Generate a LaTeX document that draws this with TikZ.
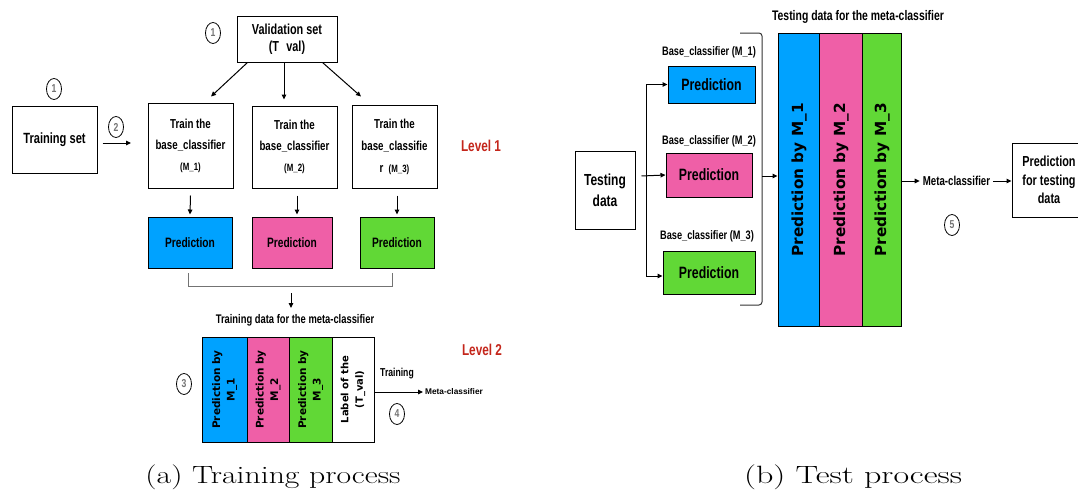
\documentclass[tikz,border=0pt]{standalone}
\usepackage{fontspec}
\usepackage{graphicx}
\newfontfamily\cnd[FakeStretch=0.75]{Liberation Sans}
\newfontfamily\lsans{Liberation Sans}
\newfontfamily\djv{DejaVu Sans}
\usetikzlibrary{arrows.meta,shapes.geometric}
\definecolor{kblue}{HTML}{00A2FF}
\definecolor{kpink}{HTML}{EF5FA7}
\definecolor{kgreen}{HTML}{61D836}
\definecolor{kred}{HTML}{C4261B}
\newcommand\cf[2]{\cnd\bfseries\fontsize{#1}{#2}\selectfont}
\newcommand\dvb[2]{\djv\bfseries\fontsize{#1}{#2}\selectfont}
\begin{document}
\begin{tikzpicture}[x=1pt,y=-1pt,
  box/.style={draw=black, line width=1pt, inner sep=0pt, align=center},
  num/.style={draw, ellipse, line width=0.8pt, minimum width=15pt, minimum height=21pt, inner sep=0pt, font=\cf{11.5}{12}, text=black!55},
  arr/.style={-{Triangle[length=5pt,width=4.5pt]}, line width=1pt},
  lbl/.style={inner sep=0pt, align=center},
  captxt/.style={inner sep=0pt, font=\fontsize{25}{28}\selectfont}]
\useasboundingbox (0,0) rectangle (1078,493);
% ---------------- (a) training ----------------
\node[box, minimum width=100pt, minimum height=46pt, font=\cf{14.5}{17}] (val) at (287,39) {Validation set\\(T\hspace{0.5em}val)};
\node[num] (n1a) at (213,33) {1};
\node[box, minimum width=85pt, minimum height=67pt, font=\cf{14.8}{18}] (ts) at (54.5,139.5) {Training set};
\node[num] (n1b) at (54,89) {1};
\node[num] (n2) at (116,127) {2};
\coordinate (a2s) at ([shift={(5pt,-3.5pt)}]ts.east);
\coordinate (a2e) at (131,143);
\draw[arr] (a2s) -- (a2e);

\node[box, minimum width=85pt, minimum height=85pt, font=\cf{13}{21}] (t1) at (190.5,145.5) {Train the\\base\_classifier\\{\cf{10.5}{21}(M\_1)}};
\node[box, minimum width=85pt, minimum height=82pt, font=\cf{13}{21}] (t2) at (294.5,147) {Train the\\base\_classifier\\{\cf{10.5}{21}(M\_2)}};
\node[box, minimum width=85pt, minimum height=83pt, font=\cf{13}{22}] (t3) at (394.5,146.5) {Train the\\base\_classifie\\r\hspace{0.4em}{\cf{10.5}{22}(M\_3)}};

\draw[arr] ([xshift=11pt]val.south west) -- ([shift={(20.5pt,6pt)}]t1.north);
\draw[arr] ([xshift=-3pt]val.south) -- ([shift={(-10.5pt,6pt)}]t2.north);
\draw[arr] ([xshift=-15pt]val.south east) -- ([shift={(-33.5pt,8pt)}]t3.north);

\node[box, fill=kblue, minimum width=84pt, minimum height=51pt, font=\cf{13.6}{16}] (p1) at (190,242.5) {Prediction};
\node[box, fill=kpink, minimum width=80pt, minimum height=51pt, font=\cf{13.6}{16}] (p2) at (292,242.5) {Prediction};
\node[box, fill=kgreen, minimum width=74pt, minimum height=51pt, font=\cf{13.6}{16}] (p3) at (397,242.5) {Prediction};

\draw[arr] ([yshift=-7pt]t1.south) -- ([yshift=2pt]p1.north);
\draw[arr] ([shift={(2.5pt,-7pt)}]t2.south) -- ([shift={(5pt,2pt)}]p2.north);
\draw[arr] ([shift={(2.5pt,-7pt)}]t3.south) -- ([shift={(0pt,2pt)}]p3.north);

\node[lbl, font=\cf{15.7}{18}, text=kred] (lv1) at (481,146) {Level 1};

\coordinate (bl) at (188,273);
\coordinate (br) at (392,273);
\draw[black!55, line width=0.9pt] (bl) -- ++(0,13) -| (br);
\coordinate (bm) at (291,293);
\node[lbl, font=\cf{12.5}{15}] (tdl) at (295,320) {Training data for the meta-classifier};
\draw[arr] (bm) -- (bm |- 0,308);

\node[box, fill=kblue, minimum width=45pt, minimum height=105pt] (c1) at (224.5,389.5) {};
\node[box, fill=kpink, minimum width=42pt, minimum height=105pt] (c2) at (268,389.5) {};
\node[box, fill=kgreen, minimum width=43pt, minimum height=105pt] (c3) at (310.5,389.5) {};
\node[box, fill=white, minimum width=42pt, minimum height=105pt] (c4) at (353,389.5) {};
\node[lbl, rotate=90, font=\dvb{10.5}{14.5}] (c1t) at (c1) {Prediction by\\M\_1};
\node[lbl, rotate=90, font=\dvb{10.5}{14.5}] (c2t) at (c2) {Prediction by\\M\_2};
\node[lbl, rotate=90, font=\dvb{10.5}{14.5}] (c3t) at (c3) {Prediction by\\M\_3};
\node[lbl, rotate=90, font=\dvb{10}{14.5}] (c4t) at (c4) {Label of the\\(T\_val)};

\node[num] (n3) at (184,384) {3};
\node[num] (n4) at (397,414) {4};
\node[lbl, font=\cf{11.5}{14}] (trn) at (397,374) {Training};
\node[lbl, anchor=west, font=\lsans\bfseries\fontsize{8.3}{10}\selectfont] (meta1) at (425,392) {Meta-classifier};
\draw[arr] (c4.east |- meta1.west) -- ([xshift=-2pt]meta1.west);
\node[lbl, font=\cf{15.7}{18}, text=kred] (lv2) at (482,350) {Level 2};

\node[captxt] (capa) at (273,477) {\scalebox{1.27}[1]{(a) Training process}};

% ---------------- (b) test ----------------
\node[lbl, font=\cf{13.9}{16}] (tdm) at (858,17) {Testing data for the meta-classifier};
\draw[black!80, line width=1pt, rounded corners=3pt] (740,33) -- (762,33) -- (762,305) -- (740,305);

\node[lbl, font=\cf{12.3}{14}] (bc1) at (709,52) {Base\_classifier (M\_1)};
\node[lbl, font=\cf{12.3}{14}] (bc2) at (709,141) {Base\_classifier (M\_2)};
\node[lbl, font=\cf{12.3}{14}] (bc3) at (707,236) {Base\_classifier (M\_3)};

\node[box, fill=kblue, minimum width=87pt, minimum height=37pt, font=\cf{16.4}{18}] (rp1) at (711.5,84.5) {Prediction};
\node[box, fill=kpink, minimum width=86pt, minimum height=44pt, font=\cf{16.4}{18}] (rp2) at (709,175) {Prediction};
\node[box, fill=kgreen, minimum width=92pt, minimum height=43pt, font=\cf{16.4}{18}] (rp3) at (709,272.5) {Prediction};

\node[box, minimum width=60pt, minimum height=78pt, font=\cf{16}{21}] (td) at (605,190) {Testing\\data};
\coordinate (tdo) at ([shift={(6pt,14pt)}]td.east);
\coordinate (sp) at (646,176);
\draw[arr] (tdo) -- (rp2.west);
\draw[arr] (sp) |- (rp1.west);
\draw[arr] (sp) |- ([yshift=-3.5pt]rp3.west);

\node[box, fill=kblue, minimum width=41pt, minimum height=293pt] (b1) at (798.5,179.5) {};
\node[box, fill=kpink, minimum width=43pt, minimum height=293pt] (b2) at (840.5,179.5) {};
\node[box, fill=kgreen, minimum width=39pt, minimum height=293pt] (b3) at (881.5,179.5) {};
\node[lbl, rotate=90, font=\dvb{15.3}{18}] (b1t) at (799,180) {Prediction by M\_1};
\node[lbl, rotate=90, font=\dvb{15.3}{18}] (b2t) at (841,180) {Prediction by M\_2};
\node[lbl, rotate=90, font=\dvb{15.3}{18}] (b3t) at (882,180) {Prediction by M\_3};

\coordinate (rbm) at (762,176);
\draw[arr] (rbm) -- (rbm -| b1.west);

\node[box, minimum width=74pt, minimum height=74pt, font=\cf{14.5}{18.5}] (fin) at (1049,180) {Prediction\\for testing\\data};
\node[lbl, inner xsep=3pt, font=\cf{12.9}{15}] (meta2) at (956.5,181) {Meta-classifier};
\draw[arr] (b3.east |- meta2.west) -- (meta2.west);
\draw[arr] (meta2.east) -- (fin.west |- meta2.east);
\node[num] (n5) at (952,225) {5};

\node[captxt] (capb) at (853,477) {\scalebox{1.36}[1]{(b) Test process}};
\end{tikzpicture}
\end{document}
